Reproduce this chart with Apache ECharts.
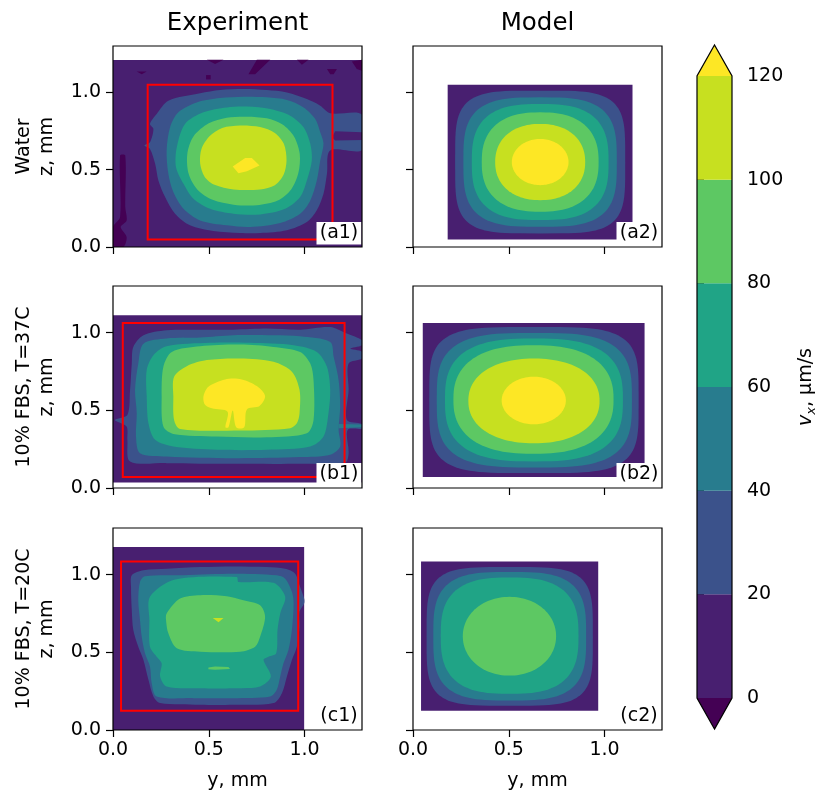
<!DOCTYPE html>
<html><head><meta charset="utf-8">
<script src="https://cdn.jsdelivr.net/npm/echarts@6/dist/echarts.min.js"></script>
<style>html,body{margin:0;padding:0;background:#fff}#c{width:831px;height:807px}</style>
</head><body><div id="c"></div><script>
// ---------------- data ----------------
const levelEdges = [0, 20, 40, 60, 80, 100, 120];      // contour levels, µm/s
const cbarTicks = [0, 20, 40, 60, 80, 100, 120];
const axisTicks = [0, 0.5, 1.0];                         // mm
const colTitles = ['Experiment', 'Model'];
const rowNames = ['Water', '10% FBS, T=37C', '10% FBS, T=20C'];
const panelTags = ['(a1)', '(a2)', '(b1)', '(b2)', '(c1)', '(c2)'];
const xName = 'y, mm';
const zName = 'z, mm';

// Experimental data extents [y0, y1, z0, z1] (mm)
const expA1Extent = [0, 1.3, 0, 1.21];
const expB1Extent = [0, 1.3, 0.036, 1.111];
const expC1Extent = [0, 0.998, 0, 1.177];

// Experimental contour regions: [lower level, [[y, z], ...]] (-20 = below 0)
const expA1 = [
  [-20, [[0.490,1.211],[0.577,1.211],[0.533,1.183]]],
  [-20, [[0.751,1.211],[0.821,1.211],[0.742,1.118],[0.707,1.118]]],
  [-20, [[0.960,1.211],[1.021,1.211],[0.986,1.179]]],
  [-20, [[1.117,1.151],[1.169,1.151],[1.152,1.118],[1.134,1.118]]],
  [-20, [[1.247,1.200],[1.3,1.211],[1.3,1.140],[1.273,1.151]]],
  [-20, [[0.124,1.135],[0.176,1.135],[0.150,1.118]]],
  [-20, [[0.486,1.112],[0.510,1.112],[0.510,1.084],[0.486,1.084]]],
  [-20, [[0.037,0.591],[0.064,0.591],[0.064,0.258],[0.071,0.172],[0.040,0.129],[0.071,0.065],[0.054,0],[0,0],[0,0.129],[0.037,0.194]]],
  [20, [[0.289,0.946],[0.455,0.994],[0.559,1.015],[0.681,1.022],[0.803,1.015],[0.908,1.000],[1.012,0.957],[1.082,0.914],[1.134,0.865],[1.3,0.856],[1.3,0.628],[1.134,0.624],[1.117,0.473],[1.099,0.344],[1.064,0.237],[1.012,0.161],[0.908,0.108],[0.768,0.090],[0.664,0.090],[0.524,0.103],[0.402,0.140],[0.324,0.215],[0.272,0.323],[0.237,0.430],[0.220,0.538],[0.193,0.634],[0.164,0.656],[0.193,0.677],[0.211,0.763],[0.193,0.796],[0.228,0.860]]],
  [0, [[1.160,0.748],[1.3,0.742],[1.3,0.692],[1.160,0.688],[1.143,0.710]]],
  [40, [[0.341,0.871],[0.437,0.935],[0.559,0.963],[0.681,0.972],[0.803,0.968],[0.908,0.951],[0.995,0.903],[1.056,0.828],[1.082,0.742],[1.099,0.667],[1.082,0.559],[1.064,0.430],[1.030,0.301],[0.977,0.215],[0.873,0.155],[0.716,0.129],[0.594,0.140],[0.455,0.172],[0.368,0.247],[0.315,0.355],[0.289,0.473],[0.280,0.624],[0.298,0.774]]],
  [60, [[0.376,0.796],[0.472,0.871],[0.594,0.903],[0.699,0.908],[0.821,0.892],[0.925,0.849],[0.995,0.774],[1.030,0.667],[1.038,0.559],[1.012,0.430],[0.977,0.323],[0.899,0.247],[0.768,0.211],[0.629,0.215],[0.507,0.247],[0.420,0.312],[0.368,0.409],[0.329,0.516],[0.333,0.645]]],
  [80, [[0.420,0.715],[0.500,0.800],[0.594,0.836],[0.699,0.843],[0.803,0.832],[0.885,0.792],[0.945,0.715],[0.975,0.602],[0.968,0.480],[0.930,0.372],[0.860,0.300],[0.751,0.270],[0.629,0.274],[0.520,0.305],[0.440,0.372],[0.395,0.473],[0.388,0.602]]],
  [100, [[0.462,0.634],[0.505,0.718],[0.570,0.770],[0.664,0.786],[0.768,0.776],[0.845,0.738],[0.892,0.667],[0.906,0.559],[0.890,0.465],[0.845,0.400],[0.768,0.372],[0.629,0.372],[0.530,0.402],[0.478,0.455],[0.455,0.540]]],
  [120, [[0.625,0.520],[0.690,0.576],[0.725,0.576],[0.765,0.527],[0.699,0.490],[0.655,0.477]]]
];
const expB1 = [
  [20, [[0.106,0.908],[0.159,0.983],[0.280,1.015],[0.455,1.019],[0.629,1.019],[0.803,1.026],[0.977,1.019],[1.134,1.036],[1.221,0.994],[1.3,0.951],[1.3,0.919],[1.239,0.897],[1.3,0.876],[1.3,0.833],[1.230,0.801],[1.230,0.630],[1.221,0.438],[1.3,0.412],[1.3,0.382],[1.225,0.374],[1.230,0.224],[1.213,0.165],[0.977,0.156],[0.629,0.156],[0.280,0.160],[0.089,0.171],[0.075,0.310],[0.071,0.395],[0.010,0.438],[0.075,0.470],[0.089,0.630],[0.098,0.801]]],
  [40, [[0.132,0.801],[0.159,0.929],[0.280,0.962],[0.455,0.968],[0.629,0.983],[0.838,0.983],[0.977,0.976],[1.134,0.940],[1.152,0.844],[1.178,0.694],[1.186,0.524],[1.178,0.374],[1.186,0.267],[1.134,0.214],[0.977,0.199],[0.629,0.192],[0.280,0.203],[0.141,0.224],[0.120,0.331],[0.124,0.481],[0.115,0.630]]],
  [40, [[1.178,0.412],[1.3,0.408],[1.3,0.391],[1.178,0.385]]],
  [60, [[0.176,0.759],[0.211,0.855],[0.280,0.912],[0.507,0.934],[0.716,0.934],[0.943,0.919],[1.064,0.876],[1.117,0.780],[1.134,0.630],[1.125,0.481],[1.099,0.331],[1.030,0.267],[0.803,0.246],[0.542,0.246],[0.315,0.267],[0.220,0.310],[0.185,0.417],[0.176,0.588]]],
  [80, [[0.263,0.780],[0.307,0.876],[0.455,0.912],[0.664,0.923],[0.838,0.908],[0.977,0.876],[1.030,0.801],[1.047,0.694],[1.047,0.438],[1.012,0.353],[0.803,0.327],[0.542,0.331],[0.315,0.348],[0.263,0.395],[0.254,0.588]]],
  [100, [[0.319,0.716],[0.385,0.784],[0.490,0.823],[0.664,0.833],[0.838,0.812],[0.934,0.748],[0.974,0.630],[0.974,0.481],[0.960,0.417],[0.925,0.385],[0.664,0.370],[0.350,0.380],[0.319,0.438],[0.315,0.588]]],
  [120, [[0.472,0.588],[0.498,0.652],[0.585,0.699],[0.672,0.699],[0.751,0.656],[0.794,0.592],[0.765,0.528],[0.699,0.506],[0.685,0.391],[0.643,0.391],[0.625,0.498],[0.603,0.391],[0.587,0.391],[0.598,0.491],[0.516,0.513],[0.481,0.534]]]
];
const expC1 = [
  [20, [[0.098,0.996],[0.159,1.028],[0.280,1.038],[0.455,1.049],[0.629,1.053],[0.803,1.049],[0.899,1.038],[0.951,1.006],[0.977,0.921],[0.998,0.846],[0.998,0.814],[0.974,0.761],[0.974,0.665],[0.960,0.536],[0.934,0.451],[0.908,0.344],[0.882,0.237],[0.838,0.173],[0.629,0.162],[0.455,0.162],[0.246,0.173],[0.211,0.216],[0.185,0.323],[0.159,0.451],[0.132,0.536],[0.106,0.643],[0.098,0.771],[0.094,0.921]]],
  [40, [[0.141,0.953],[0.167,0.989],[0.368,0.996],[0.629,1.006],[0.855,0.996],[0.899,0.974],[0.934,0.889],[0.943,0.814],[0.934,0.643],[0.916,0.515],[0.890,0.429],[0.873,0.344],[0.855,0.259],[0.821,0.216],[0.629,0.205],[0.420,0.205],[0.228,0.216],[0.202,0.301],[0.193,0.408],[0.167,0.494],[0.150,0.600],[0.141,0.707],[0.132,0.835]]],
  [60, [[0.193,0.857],[0.324,0.968],[0.646,0.985],[0.655,0.953],[0.838,0.947],[0.899,0.857],[0.873,0.750],[0.859,0.643],[0.852,0.494],[0.812,0.472],[0.786,0.451],[0.824,0.344],[0.768,0.280],[0.629,0.269],[0.455,0.269],[0.280,0.280],[0.246,0.344],[0.254,0.429],[0.228,0.472],[0.193,0.536],[0.190,0.707]]],
  [80, [[0.280,0.750],[0.350,0.846],[0.455,0.868],[0.594,0.861],[0.681,0.835],[0.768,0.803],[0.794,0.729],[0.768,0.600],[0.742,0.536],[0.664,0.504],[0.455,0.504],[0.333,0.526],[0.289,0.622],[0.277,0.707]]],
  [80, [[0.498,0.402],[0.533,0.408],[0.603,0.406],[0.611,0.393],[0.533,0.387],[0.498,0.391]]],
  [100, [[0.521,0.720],[0.577,0.720],[0.551,0.694]]]
];

// Model: rectangle extents [y0, y1, z0, z1] (also the red measurement boxes)
const modA2Extent = [0.181, 1.146, 0.049, 1.049];
const modB2Extent = [0.051, 1.209, 0.071, 1.062];
const modC2Extent = [0.042, 0.967, 0.124, 1.085];
// Model contours: [lower level, y0, y1, z0, z1, squareness]
const modA2 = [
  [20, 0.220, 1.108, 0.088, 1.011, 4.2],
  [40, 0.263, 1.064, 0.131, 0.968, 3.3],
  [60, 0.307, 1.021, 0.174, 0.925, 2.8],
  [80, 0.359, 0.969, 0.228, 0.871, 2.45],
  [100, 0.429, 0.899, 0.303, 0.796, 2.2],
  [120, 0.516, 0.812, 0.400, 0.699, 2.0]
];
const modB2 = [
  [20, 0.085, 1.178, 0.096, 1.036, 4.2],
  [40, 0.124, 1.143, 0.132, 0.998, 3.3],
  [60, 0.167, 1.096, 0.171, 0.962, 2.8],
  [80, 0.211, 1.047, 0.220, 0.919, 2.45],
  [100, 0.289, 0.974, 0.288, 0.833, 2.2],
  [120, 0.463, 0.798, 0.410, 0.716, 2.0]
];
const modC2 = [
  [20, 0.071, 0.939, 0.156, 1.049, 4.2],
  [40, 0.106, 0.904, 0.190, 1.017, 3.3],
  [60, 0.145, 0.864, 0.233, 0.981, 2.8],
  [80, 0.260, 0.747, 0.350, 0.857, 2.05]
];

// ---------------- styles / layout ----------------
const F = 'DejaVu Sans';
const COLORS = {'-20':'#440154', 0:'#481F70', 20:'#3B528B', 40:'#287C8E', 60:'#20A486', 80:'#5DC863', 100:'#C7E020', 120:'#FDE725'};
const colLeft = [113, 413], gridW = 249;
const rowTop = [46, 286, 528], rowH = [201, 202, 202];
const cbar = {left: 697, top: 76, width: 35, height: 622};
const extendFrac = 0.05;

function rectPts(e){ return [[e[0],e[2]],[e[1],e[2]],[e[1],e[3]],[e[0],e[3]]]; }
function superPts(y0,y1,z0,z1,p){
  const cx=(y0+y1)/2, cz=(z0+z1)/2, a=(y1-y0)/2, b=(z1-z0)/2, pts=[];
  for(let k=0;k<120;k++){ const t=2*Math.PI*k/120, c=Math.cos(t), s=Math.sin(t);
    pts.push([cx + a*Math.sign(c)*Math.pow(Math.abs(c),2/p), cz + b*Math.sign(s)*Math.pow(Math.abs(s),2/p)]); }
  return pts;
}

const panels = [
  {extent: expA1Extent, items: expA1.map(s=>[s[0], s[1], s[1].length>6?0.3:0]), box: modA2Extent},
  {extent: modA2Extent, items: modA2.map(m=>[m[0], superPts(m[1],m[2],m[3],m[4],m[5]), 0])},
  {extent: expB1Extent, items: expB1.map(s=>[s[0], s[1], s[1].length>6?0.3:0]), box: modB2Extent},
  {extent: modB2Extent, items: modB2.map(m=>[m[0], superPts(m[1],m[2],m[3],m[4],m[5]), 0])},
  {extent: expC1Extent, items: expC1.map(s=>[s[0], s[1], s[1].length>6?0.3:0]), box: modC2Extent},
  {extent: modC2Extent, items: modC2.map(m=>[m[0], superPts(m[1],m[2],m[3],m[4],m[5]), 0])}
];

const grids=[], xAxes=[], yAxes=[], series=[], graphics=[];
panels.forEach((p, i) => {
  const r = Math.floor(i/2), c = i%2;
  const L = colLeft[c], T = rowTop[r], H = rowH[r];
  grids.push({left: L, top: T, width: gridW, height: H});
  const tick = {show:true, inside:false, length:7, customValues: axisTicks, lineStyle:{color:'#000', width:1.2}};
  xAxes.push({gridIndex:i, type:'value', min:0, max:1.3, interval:0.5, axisLine:{show:false}, splitLine:{show:false},
    axisTick: tick, axisLabel:{show: r===2, customValues: axisTicks, formatter: v=>v.toFixed(1), fontSize:19, fontFamily:F, color:'#000', margin:11}});
  yAxes.push({gridIndex:i, type:'value', min:0, max:1.3, interval:0.5, axisLine:{show:false}, splitLine:{show:false},
    axisTick: tick, axisLabel:{show: c===0, customValues: axisTicks, formatter: v=>v.toFixed(1), fontSize:19, fontFamily:F, color:'#000', margin:12}});
  const items = [[0, rectPts(p.extent), 0]].concat(p.items);
  series.push({type:'custom', xAxisIndex:i, yAxisIndex:i, silent:true, animation:false, clip:true, z:2,
    data: items.map((_, k)=>[0, 0, k]),
    renderItem: (params, api) => { const it = items[params.dataIndex];
      return {type:'polygon', shape:{points: it[1].map(q=>api.coord(q)), smooth: it[2]}, style:{fill: COLORS[it[0]]}}; }});
  if (p.box) {
    series.push({type:'custom', xAxisIndex:i, yAxisIndex:i, silent:true, animation:false, z:3, data:[[0,0]],
      renderItem: (params, api) => ({type:'polygon', shape:{points: rectPts(p.box).map(q=>api.coord(q))},
        style:{fill:'none', stroke:'#ff0000', lineWidth:2}})});
  }
  graphics.push({type:'rect', z:50, silent:true, shape:{x:L, y:T, width:gridW, height:H}, style:{fill:'none', stroke:'#000', lineWidth:1.2}});
  graphics.push({type:'rect', z:40, silent:true, shape:{x:L+gridW-45.5, y:T+H-25, width:45, height:22.5}, style:{fill:'#fff'}});
  graphics.push({type:'text', z:41, silent:true, x:L+gridW-23, y:T+H-13.5, style:{text: panelTags[i], fontSize:19, fontFamily:F, fill:'#000', align:'center', verticalAlign:'middle'}});
});

// colorbar
grids.push({left: cbar.left, top: cbar.top, width: cbar.width, height: cbar.height});
xAxes.push({gridIndex:6, type:'value', min:0, max:1, show:false});
yAxes.push({gridIndex:6, type:'value', position:'right', min:0, max:120, interval:20, axisLine:{show:false}, splitLine:{show:false},
  axisTick:{show:true, inside:false, length:7, customValues: cbarTicks, lineStyle:{color:'#000', width:1.2}},
  axisLabel:{customValues: cbarTicks, fontSize:19, fontFamily:F, color:'#000', margin:15}});
const bands = levelEdges.slice(0,-1).map((lo,k)=>[0, lo, levelEdges[k+1]]);
series.push({type:'custom', xAxisIndex:6, yAxisIndex:6, silent:true, animation:false, z:2, data: bands,
  renderItem:(params, api)=>{ const a=api.coord([0, api.value(2)]), b=api.coord([1, api.value(1)]);
    return {type:'rect', shape:{x:a[0], y:a[1], width:b[0]-a[0], height:b[1]-a[1]}, style:{fill: COLORS[api.value(1)]}}; }});
const lo = levelEdges[0], hi = levelEdges[levelEdges.length-1], ext = extendFrac*(hi-lo);
const tris = [[-20, [[0,lo],[1,lo],[0.5,lo-ext]]], [120, [[0,hi],[1,hi],[0.5,hi+ext]]]];
series.push({type:'custom', xAxisIndex:6, yAxisIndex:6, silent:true, animation:false, z:2, clip:false, data: tris.map((_,k)=>[0,0,k]),
  renderItem:(params, api)=>{ const t=tris[params.dataIndex];
    return {type:'polygon', shape:{points:t[1].map(q=>api.coord(q))}, style:{fill: COLORS[t[0]]}}; }});
series.push({type:'custom', xAxisIndex:6, yAxisIndex:6, silent:true, animation:false, z:4, clip:false, data:[[0,0]],
  renderItem:(params, api)=>({type:'polygon', shape:{points:[[0.5,lo-ext],[1,lo],[1,hi],[0.5,hi+ext],[0,hi],[0,lo]].map(q=>api.coord(q))},
    style:{fill:'none', stroke:'#000', lineWidth:1.2}})});

// texts
colTitles.forEach((t, c) => graphics.push({type:'text', silent:true, x: colLeft[c]+gridW/2, y: 24,
  style:{text:t, fontSize:24.5, fontFamily:F, fill:'#000', align:'center', verticalAlign:'middle'}}));
[0,1].forEach(c => graphics.push({type:'text', silent:true, x: colLeft[c]+gridW/2, y: 781,
  style:{text:xName, fontSize:19, fontFamily:F, fill:'#000', align:'center', verticalAlign:'middle'}}));
rowNames.forEach((t, r) => graphics.push({type:'text', silent:true, x: 36, y: rowTop[r]+rowH[r]/2, rotation: Math.PI/2,
  style:{text: t + '\n' + zName, fontSize:19, lineHeight:23, fontFamily:F, fill:'#000', align:'center', verticalAlign:'middle'}}));
graphics.push({type:'text', silent:true, x: 806, y: cbar.top + cbar.height/2, rotation: Math.PI/2,
  style:{text:'{i|v}{s|x}{n|, μm/s}', align:'center', verticalAlign:'middle', fill:'#000',
    rich:{i:{fontSize:19, fontStyle:'italic', fontFamily:F, lineHeight:24, verticalAlign:'middle'},
          s:{fontSize:13, fontStyle:'italic', fontFamily:F, lineHeight:24, verticalAlign:'bottom'},
          n:{fontSize:19, fontFamily:F, lineHeight:24, verticalAlign:'middle'}}}});

const chart = echarts.init(document.getElementById('c'), null, {renderer:'canvas'});
chart.setOption({animation:false, backgroundColor:'#fff', grid:grids, xAxis:xAxes, yAxis:yAxes, series:series, graphic:graphics});
</script></body></html>
